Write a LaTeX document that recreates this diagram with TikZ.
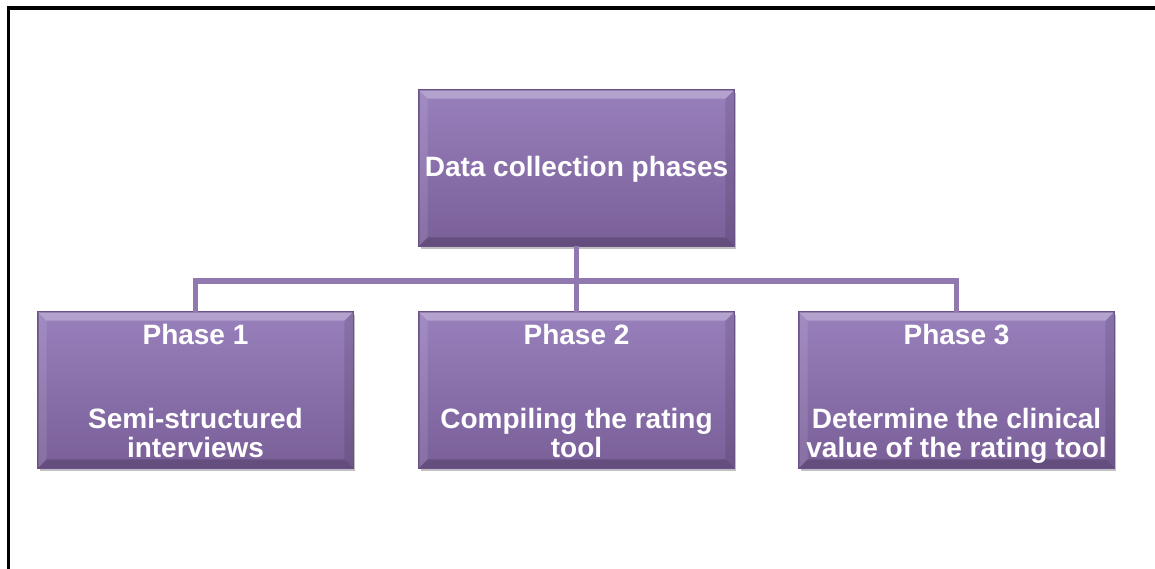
\documentclass[tikz,border=0pt]{standalone}
\usepackage{fontspec}
\setmainfont{Liberation Sans}
\usetikzlibrary{calc,shadows}
\definecolor{boxtop}{HTML}{9880BC}
\definecolor{boxbot}{HTML}{7A5F98}
\definecolor{boxedge}{HTML}{6B5189}
\definecolor{linkcol}{HTML}{9179B0}
\begin{document}
\begin{tikzpicture}[x=1pt,y=-1pt,
  pbox/.style={rectangle, minimum width=315pt, minimum height=156pt, inner sep=0pt,
    draw=boxedge, line width=0.8pt, top color=boxtop, bottom color=boxbot,
    drop shadow={shadow xshift=2pt, shadow yshift=-3pt, opacity=0.35, fill=black!70}},
  ptext/.style={text=white, font=\bfseries\fontsize{28}{29}\selectfont, anchor=base, inner sep=0pt, align=center},
  link/.style={draw=linkcol, line width=5.5pt},
  frame/.style={draw=black, line width=3.5pt}]
\useasboundingbox (0,0) rectangle (1155,569);
\fill[white] (0,0) rectangle (1155,569);
% frame (top and left only)
\draw[frame] (1155,8) -- (8.5,8) -- (8.5,569);
% boxes
\node[pbox] (top) at (576.5,168) {};
\node[pbox] (p1) at (195.5,390) {};
\node[pbox] (p2) at (576.5,390) {};
\node[pbox] (p3) at (956.5,390) {};
% bevels
\foreach \b in {top,p1,p2,p3}{
  \fill[white,opacity=0.28] (\b.north west) -- (\b.north east) -- ($(\b.north east)+(-9,9)$) -- ($(\b.north west)+(9,9)$) -- cycle;
  \fill[white,opacity=0.10] (\b.north west) -- ($(\b.north west)+(9,9)$) -- ($(\b.south west)+(9,-9)$) -- (\b.south west) -- cycle;
  \fill[black,opacity=0.10] (\b.north east) -- ($(\b.north east)+(-9,9)$) -- ($(\b.south east)+(-9,-9)$) -- (\b.south east) -- cycle;
  \fill[black,opacity=0.18] (\b.south west) -- ($(\b.south west)+(9,-9)$) -- ($(\b.south east)+(-9,-9)$) -- (\b.south east) -- cycle;
  \draw[boxedge,line width=0.8pt] (\b.north west) rectangle (\b.south east);
}
% connectors
\coordinate (bus) at (576.5,281);
\draw[link] (top.south) -- (top.south |- bus);
\draw[link] (p1.north) -- (p1.north |- bus) -- (p3.north |- bus) -- (p3.north);
\draw[link] (p2.north) -- (p2.north |- bus);
% texts
\node[ptext] (ttop) at (576.5,177) {Data collection phases};
\node[ptext] (t1a) at (195.5,344) {Phase 1};
\node[ptext] (t1b) at (195.5,457) {Semi-structured\\interviews};
\node[ptext] (t2a) at (576.5,344) {Phase 2};
\node[ptext] (t2b) at (576.5,457) {Compiling the rating\\tool};
\node[ptext] (t3a) at (956.5,344) {Phase 3};
\node[ptext] (t3b) at (956.5,457) {Determine the clinical\\value of the rating tool};
\end{tikzpicture}
\end{document}
